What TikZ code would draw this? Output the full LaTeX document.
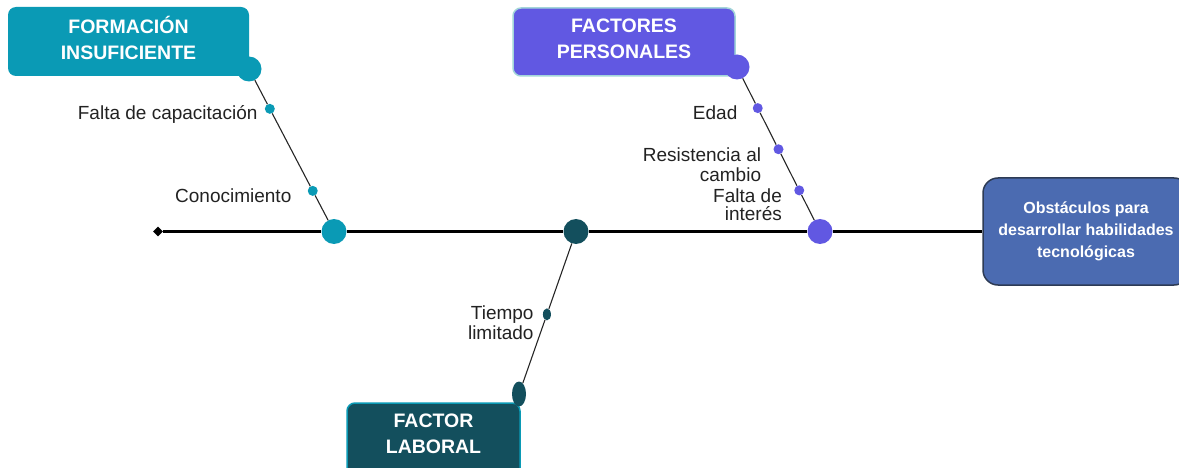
\documentclass[tikz,border=0pt]{standalone}
\usepackage{fontspec}
\setmainfont{Liberation Sans}
\usetikzlibrary{positioning, calc, shapes.geometric}

\definecolor{turquesa}{HTML}{0A9AB5}
\definecolor{morado}{HTML}{6158E2}
\definecolor{bordemorado}{HTML}{A3D5D9}
\definecolor{petroleo}{HTML}{134F5D}
\definecolor{azulefecto}{HTML}{4B6BB1}
\definecolor{bordeefecto}{HTML}{2D3B55}
\definecolor{textocausa}{HTML}{222222}

\begin{document}
\begin{tikzpicture}[x=1pt, y=-1pt,
	categoria/.style={rounded corners=8pt, text=white, align=center, inner sep=0pt,
		font=\bfseries\fontsize{19.5}{26}\selectfont},
	causa/.style={font=\fontsize{19}{20}\selectfont, text=textocausa, align=right, inner sep=0pt},
	nudo/.style={circle, inner sep=0pt, minimum size=25pt},
	punto/.style={circle, inner sep=0pt, minimum size=10pt},
	rama/.style={draw=black!85, line width=1.1pt},
	espina/.style={draw=black, line width=2.2pt}]
	% marco de la figura
	\useasboundingbox (0,0) rectangle (1179,468);
	
	% cajas de las categorias
	\node[categoria, text depth=8pt, fill=turquesa, minimum width=241pt, minimum height=69pt]
		(formacion) at (128.5,41.5) {FORMACIÓN\\INSUFICIENTE};
	\node[categoria, text depth=6pt, fill=morado, draw=bordemorado, line width=1.5pt,
		minimum width=222pt, minimum height=68pt]
		(personales) at (624,42) {FACTORES\\PERSONALES};
	\draw[fill=petroleo, draw=turquesa, line width=1.5pt, rounded corners=8pt]
		(347,403) rectangle (520,480);
	\node[categoria] (laboral) at (433.5,434) {FACTOR\\LABORAL};
	
	% caja del efecto (a la derecha)
	\node[fill=azulefecto, draw=bordeefecto, line width=1.5pt, rounded corners=15pt,
		minimum width=206pt, minimum height=107pt, text=white, align=center,
		font=\bfseries\fontsize{16}{22}\selectfont]
		(efecto) at (1086,231.5) {Obstáculos para\\desarrollar habilidades\\tecnológicas};
	
	% nudos de las ramas
	\node[nudo, fill=turquesa] (fb) at (249,69) {};
	\node[nudo, fill=morado] (fp) at (737,67) {};
	\node[ellipse, fill=petroleo, inner sep=0pt, minimum width=14pt, minimum height=25pt]
		(fl) at (519,394) {};
	\node[nudo, fill=turquesa] (h1) at (334,231.5) {};
	\node[nudo, fill=petroleo] (h2) at (576,231.5) {};
	\node[nudo, fill=morado] (h3) at (820,231.5) {};
	\node[diamond, fill=black, inner sep=0pt, minimum size=10pt] (cola) at (158,231.5) {};
	
	% espina central
	\draw[espina] (cola) -- (h1) -- (h2) -- (h3) -- (efecto);
	
	% rama: formacion insuficiente
	\node[punto, fill=turquesa] (p1) at ($(fb)!0.245!(h1)$) {};
	\node[punto, fill=turquesa] (p2) at ($(fb)!0.75!(h1)$) {};
	\draw[rama] (fb) -- (p1) -- (p2) -- (h1);
	\node[causa, left=7pt of p1, yshift=-6pt] {Falta de capacitación};
	\node[causa, left=16pt of p2, yshift=-5pt] {Conocimiento};
	
	% rama: factores personales
	\node[punto, fill=morado] (q1) at ($(fp)!0.25!(h3)$) {};
	\node[punto, fill=morado] (q2) at ($(fp)!0.5!(h3)$) {};
	\node[punto, fill=morado] (q3) at ($(fp)!0.75!(h3)$) {};
	\draw[rama] (fp) -- (q1) -- (q2) -- (q3) -- (h3);
	\node[causa, left=15pt of q1, yshift=-5pt] {Edad};
	\node[causa, left=12pt of q2, yshift=-15pt] {Resistencia al\\cambio};
	\node[causa, left=12pt of q3, yshift=-14pt] {Falta de\\[-2pt]interés};
	
	% rama: factor laboral
	\node[ellipse, fill=petroleo, inner sep=0pt, minimum width=8pt, minimum height=12pt]
		(r1) at ($(fl)!0.49!(h2)$) {};
	\draw[rama] (fl) -- (r1) -- (h2);
	\node[causa, left=9pt of r1, yshift=-8pt] {Tiempo\\limitado};
\end{tikzpicture}
\end{document}
